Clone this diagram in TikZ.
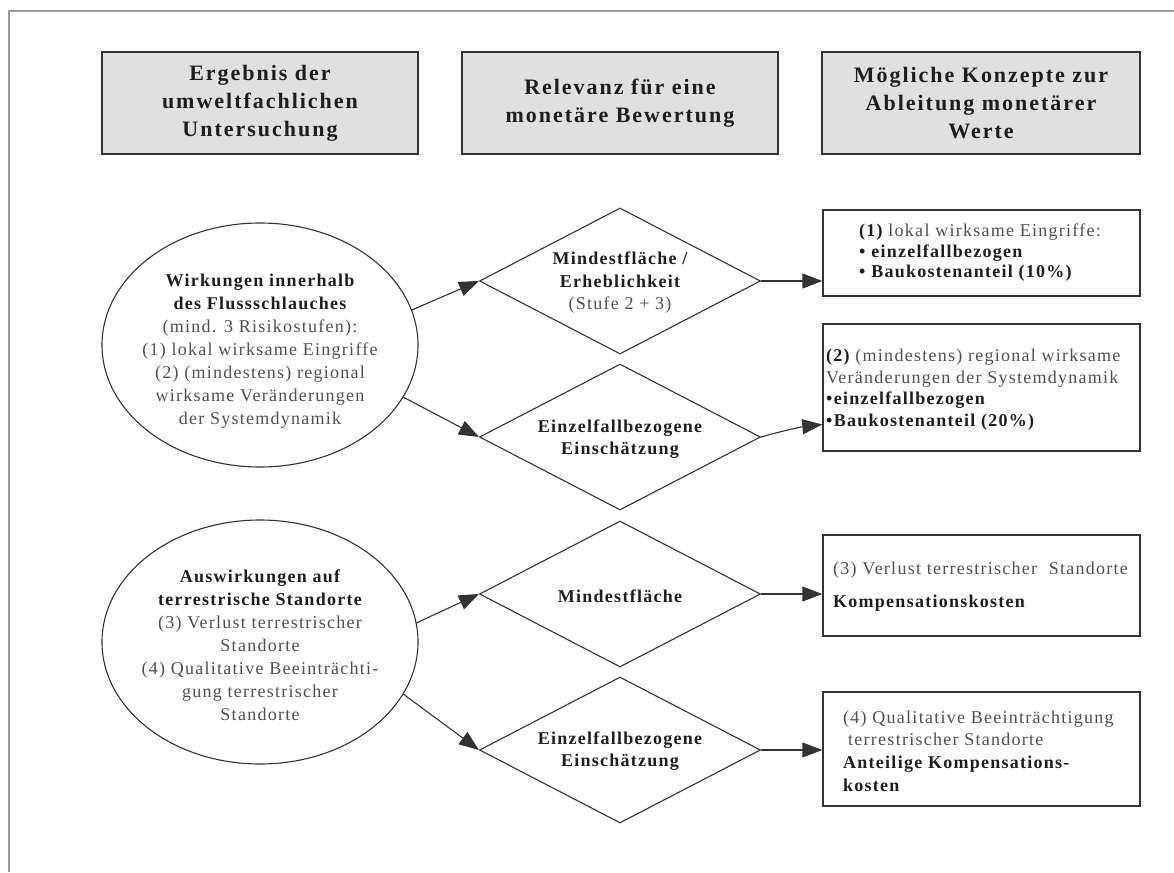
\documentclass[tikz,border=0pt]{standalone}
\usepackage{fontspec}
\setmainfont[LetterSpace=7]{Liberation Serif}
\usetikzlibrary{shapes.geometric,arrows.meta}
\definecolor{linec}{HTML}{333333}
\definecolor{txtr}{HTML}{505050}
\definecolor{txtb}{HTML}{1E1E1E}
\definecolor{hdfill}{HTML}{E0E0E0}
\definecolor{framec}{HTML}{9A9A9A}
\newcommand\bdt[1]{\textbf{\color{txtb}#1}}
\tikzset{
  hd/.style={draw=linec, line width=1.6pt, fill=hdfill, rectangle, minimum width=316pt, minimum height=102pt, inner sep=0pt,
    font=\fontsize{22}{28}\selectfont\bfseries\addfontfeature{LetterSpace=9}, text=txtb, align=center},
  ell/.style={draw=linec, line width=1.1pt, ellipse, minimum width=316pt, minimum height=244pt, inner sep=0pt},
  dia/.style={draw=linec, line width=1.1pt, diamond, minimum width=281pt, minimum height=146pt, inner sep=0pt},
  rbox/.style={draw=linec, line width=1.4pt, rectangle, minimum width=317pt, inner sep=0pt},
  ctxt/.style={align=center, inner sep=0pt, text=txtr, font=\fontsize{18}{23}\selectfont},
  ltxt/.style={align=left, inner sep=0pt, text=txtr, anchor=west, font=\fontsize{18}{21.5}\selectfont},
  arr/.style={draw=linec, line width=1.1pt, -{Triangle[length=20pt,width=15pt]}}
}
\begin{document}
\begin{tikzpicture}[x=1pt,y=-1pt]
\useasboundingbox (0,0) rectangle (1174,872);
\fill[white] (0,0) rectangle (1174,872);
% outer frame (only top and left visible)
\draw[framec, line width=2.5pt] (9,872) -- (9,11) -- (1174,11);

% headers
\node[hd] (h1) at (260,103) {Ergebnis der\\umweltfachlichen\\Untersuchung};
\node[hd] (h2) at (620,103) {Relevanz für eine\\monetäre Bewertung};
\node[hd, minimum width=318pt] (h3) at (981,103) {Mögliche Konzepte zur\\Ableitung monetärer\\Werte};

% ellipses
\node[ell] (e1) at (260,345) {};
\node[ctxt] (e1t) at (260,351) {\bdt{Wirkungen innerhalb}\\\bdt{des Flussschlauches}\\(mind. 3 Risikostufen):\\(1) lokal wirksame Eingriffe\\(2) (mindestens) regional\\wirksame Veränderungen\\der Systemdynamik};
\node[ell] (e2) at (260,642) {};
\node[ctxt] (e2t) at (260,645) {\bdt{Auswirkungen auf}\\\bdt{terrestrische Standorte}\\(3) Verlust terrestrischer\\Standorte\\(4) Qualitative Beeinträchti-\\gung terrestrischer\\Standorte};

% diamonds
\node[dia] (d1) at (620,281) {};
\node[ctxt, font=\fontsize{18}{22.5}\selectfont] (d1t) at (620,283) {\bdt{Mindestfläche /}\\\bdt{Erheblichkeit}\\(Stufe 2 + 3)};
\node[dia] (d2) at (620,437) {};
\node[ctxt, font=\fontsize{18}{22.5}\selectfont] (d2t) at (620,439) {\bdt{Einzelfallbezogene}\\\bdt{Einschätzung}};
\node[dia] (d3) at (620,594) {};
\node[ctxt] (d3t) at (620,596) {\bdt{Mindestfläche}};
\node[dia] (d4) at (620,750) {};
\node[ctxt, font=\fontsize{18}{22.5}\selectfont] (d4t) at (620,751) {\bdt{Einzelfallbezogene}\\\bdt{Einschätzung}};

% right boxes
\node[rbox, minimum height=86pt] (b1) at (981.5,253) {};
\node[ltxt, font=\fontsize{18}{20.5}\selectfont] (b1t) at (859,253) {\bdt{(1)} lokal wirksame Eingriffe:\\\bdt{• einzelfallbezogen}\\\bdt{• Baukostenanteil (10\%)}};
\node[rbox, minimum height=127pt] (b2) at (981.5,387.5) {};
\node[ltxt] (b2t) at (826,389.5) {\bdt{(2)} (mindestens) regional wirksame\\Veränderungen der Systemdynamik\\\bdt{•einzelfallbezogen}\\\bdt{•Baukostenanteil (20\%)}};
\node[rbox, minimum height=101pt] (b3) at (981.5,585.5) {};
\node[ltxt, font=\fontsize{18}{22}\selectfont] (b3t) at (833,586.5) {(3) Verlust terrestrischer\hspace{6pt} Standorte\\[11pt]\bdt{Kompensationskosten}};
\node[rbox, minimum height=114pt] (b4) at (981.5,749) {};
\node[ltxt, font=\fontsize{18}{22.7}\selectfont] (b4t) at (843,751) {(4) Qualitative Beeinträchtigung\\\hspace*{5pt}terrestrischer Standorte\\\bdt{Anteilige Kompensations-}\\\bdt{kosten}};

% connectors
\draw[arr] (e1.13) -- (d1.west);
\draw[arr] (e1.-20) -- (d2.west);
\draw[arr] (e2.7) -- (d3.west);
\draw[arr] (e2.-20) -- (d4.west);
\draw[arr] (d1.east) -- (d1.east -| b1.west);
\draw[arr] (d2.east) .. controls +(28,-8) and +(-18,2) .. ([yshift=-37pt]b2.west);
\draw[arr] (d3.east) -- (d3.east -| b3.west);
\draw[arr] (d4.east) -- (d4.east -| b4.west);
\end{tikzpicture}
\end{document}
